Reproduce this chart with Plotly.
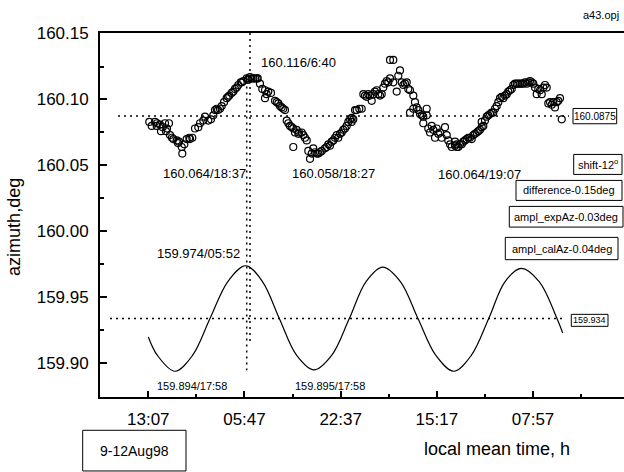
import plotly.graph_objects as go

# ---------------- data ----------------
# experimental azimuth (hours since 9 Aug 00:00, degrees)
exp_time_day1 = [13.29, 14.28, 13.71, 14.57, 15.14, 16.01, 16.70, 15.61, 15.32, 16.18,
                 16.88, 17.45, 18.04, 18.44, 18.91, 19.01, 19.36, 19.77, 20.22, 20.74,
                 21.21, 21.78, 22.08, 22.65, 22.94, 23.51, 23.98, 24.38, 24.68, 24.97,
                 25.54, 25.84, 26.24, 26.70, 27.15, 27.57, 27.85, 28.44, 28.71, 29.13,
                 29.58, 30.17, 30.74, 31.31, 31.90,
                 25.20, 26.93, 28.14, 29.35, 30.39, 20.34, 18.26, 17.22, 16.36, 14.63]
exp_az_day1 = [160.083, 160.083, 160.080, 160.080, 160.081, 160.082, 160.082, 160.079, 160.076, 160.076,
               160.073, 160.070, 160.069, 160.068, 160.064, 160.059, 160.066, 160.070, 160.071, 160.071,
               160.078, 160.079, 160.082, 160.084, 160.087, 160.084, 160.085, 160.088, 160.092, 160.093,
               160.093, 160.095, 160.098, 160.101, 160.103, 160.105, 160.106, 160.109, 160.111, 160.113,
               160.114, 160.116, 160.117, 160.116, 160.116,
               160.092, 160.102, 160.108, 160.113, 160.115, 160.070, 160.067, 160.071, 160.078, 160.082]

exp_time_day2 = [30.45, 31.04, 31.61, 32.08, 32.47, 32.87, 33.34, 33.63, 33.91, 34.38,
                 33.34, 35.07, 35.37, 35.65, 35.94, 36.23, 36.51, 36.81, 37.10, 37.38,
                 37.67, 37.97, 38.24, 38.54, 38.83, 39.11, 39.23, 39.70, 39.98, 40.27,
                 40.57, 38.24, 40.84, 41.43, 41.14, 41.71, 42.00, 42.30, 42.58, 42.87,
                 43.17, 43.74, 44.03, 44.31, 44.60, 44.90, 45.18, 45.47, 45.77, 46.04,
                 46.34, 46.63, 46.91, 47.20, 47.50, 47.78, 48.07, 48.36, 48.94]
exp_az_day2 = [160.115, 160.116, 160.116, 160.116, 160.112, 160.108, 160.107, 160.104, 160.106, 160.105,
               160.101, 160.099, 160.098, 160.097, 160.095, 160.094, 160.093, 160.092, 160.084, 160.082,
               160.080, 160.079, 160.078, 160.075, 160.077, 160.074, 160.075, 160.075, 160.073, 160.071,
               160.069, 160.064, 160.061, 160.059, 160.055, 160.063, 160.060, 160.059, 160.059, 160.060,
               160.061, 160.063, 160.064, 160.066, 160.065, 160.068, 160.069, 160.071, 160.073, 160.071,
               160.074, 160.075, 160.077, 160.078, 160.080, 160.083, 160.085, 160.086, 160.092]

exp_time_day3 = [48.36, 48.64, 49.23, 49.68, 50.10, 50.38, 50.67, 50.96, 51.24, 51.54,
                 51.83, 52.11, 52.40, 52.70, 52.97, 53.27, 53.56, 53.84, 54.13, 54.43,
                 54.71, 55.00, 55.57, 55.00, 55.57, 56.16, 56.44, 56.73, 57.03, 57.31,
                 57.60, 57.90, 58.17, 58.47, 59.04, 59.33, 59.63, 58.47, 59.04, 59.91,
                 60.20, 60.49, 60.77, 61.36, 60.77, 61.36, 61.64, 62.23, 61.93, 62.51,
                 62.80, 63.09, 63.37, 63.67, 63.96, 64.53, 64.83, 65.10, 65.40, 65.69,
                 66.27, 66.56]
exp_az_day3 = [160.083, 160.085, 160.092, 160.093, 160.093, 160.104, 160.103, 160.102, 160.104, 160.103,
               160.099, 160.104, 160.106, 160.107, 160.104, 160.103, 160.104, 160.109, 160.112, 160.114,
               160.113, 160.116, 160.113, 160.130, 160.130, 160.106, 160.118, 160.122, 160.113, 160.111,
               160.112, 160.113, 160.108, 160.107, 160.103, 160.098, 160.094, 160.090, 160.093, 160.092,
               160.089, 160.088, 160.087, 160.093, 160.082, 160.088, 160.078, 160.080, 160.075, 160.077,
               160.071, 160.078, 160.074, 160.075, 160.071, 160.079, 160.073, 160.069, 160.066, 160.064,
               160.065, 160.066]

exp_time_day4 = [66.27, 66.56, 66.84, 67.13, 67.43, 67.70, 68.00, 68.29, 68.57, 68.86,
                 69.16, 69.44, 69.73, 70.03, 70.30, 70.60, 70.89, 71.17, 70.89, 71.46,
                 71.76, 72.04, 72.33, 72.62, 72.90, 73.20, 73.49, 73.77, 74.06, 74.36,
                 74.64, 74.93, 75.22, 75.50, 75.80, 76.09, 76.37, 76.66, 76.96, 77.23,
                 77.53, 77.82, 78.10, 78.40, 78.69, 78.97, 79.26, 79.56, 79.83, 80.13,
                 80.42, 80.70, 81.00, 81.29, 81.57, 81.86, 82.16, 82.43, 82.73, 83.02,
                 83.30, 83.59, 83.89, 84.17, 84.46, 84.76]
exp_az_day4 = [160.068, 160.064, 160.064, 160.066, 160.066, 160.068, 160.069, 160.070, 160.071, 160.071,
               160.070, 160.073, 160.074, 160.075, 160.076, 160.077, 160.079, 160.080, 160.083, 160.084,
               160.087, 160.088, 160.089, 160.090, 160.090, 160.093, 160.095, 160.098, 160.101, 160.102,
               160.101, 160.103, 160.104, 160.106, 160.107, 160.108, 160.111, 160.112, 160.112, 160.112,
               160.112, 160.112, 160.112, 160.113, 160.112, 160.113, 160.114, 160.113, 160.112, 160.109,
               160.104, 160.108, 160.107, 160.104, 160.109, 160.111, 160.109, 160.097, 160.098, 160.096,
               160.098, 160.094, 160.098, 160.099, 160.101, 160.085]

# calculated azimuth
cal_time_h = [13.12, 14.70, 17.74, 20.78, 23.81, 26.90, 29.99, 32.90, 35.82, 38.83,
              41.83, 44.89, 47.95, 50.85, 53.74, 56.80, 59.85, 62.95, 66.04, 69.08,
              72.11, 74.94, 77.76, 80.85, 83.94, 84.93]
cal_az = [159.920, 159.906, 159.894, 159.906, 159.934, 159.962, 159.974, 159.962, 159.934, 159.906,
          159.895, 159.906, 159.934, 159.962, 159.973, 159.962, 159.934, 159.906, 159.894, 159.906,
          159.934, 159.962, 159.972, 159.962, 159.934, 159.923]

x_tick_vals = [13.117, 29.783, 46.450, 63.117, 79.783]
x_tick_text = ["13:07", "05:47", "22:37", "15:17", "07:57"]
x_minor_vals = [4.783, 21.450, 38.117, 54.783, 71.450, 88.117]
y_tick_vals = [159.90, 159.95, 160.00, 160.05, 160.10, 160.15]
y_minor_vals = [159.875, 159.925, 159.975, 160.025, 160.075, 160.125]

mean_exp = 160.0875
mean_cal = 159.934
peak_exp_time = 30.74
peak_cal_time = 30.17

exp_time = exp_time_day1 + exp_time_day2 + exp_time_day3 + exp_time_day4
exp_az = exp_az_day1 + exp_az_day2 + exp_az_day3 + exp_az_day4

# ---------------- figure ----------------
FONT = "Liberation Sans, Arial, sans-serif"
X0, X1 = 4.747, 95.55
Y0, Y1 = 159.8745, 160.1504
DOT = "2px,4px"

fig = go.Figure()

# reference lines
fig.add_trace(go.Scatter(x=[7.87, 86.02], y=[mean_exp, mean_exp], mode="lines",
                         line=dict(color="black", width=1.5, dash=DOT), hoverinfo="skip"))
fig.add_trace(go.Scatter(x=[6.48, 84.81], y=[mean_cal, mean_cal], mode="lines",
                         line=dict(color="black", width=1.5, dash=DOT), hoverinfo="skip"))
fig.add_trace(go.Scatter(x=[peak_exp_time, peak_exp_time], y=[Y1, 159.915], mode="lines",
                         line=dict(color="black", width=1.5, dash=DOT), hoverinfo="skip"))
fig.add_trace(go.Scatter(x=[peak_cal_time, peak_cal_time], y=[160.119, 159.8947], mode="lines",
                         line=dict(color="black", width=1.5, dash=DOT), hoverinfo="skip"))

# calculated curve
fig.add_trace(go.Scatter(x=cal_time_h, y=cal_az, mode="lines",
                         line=dict(color="black", width=1.2, shape="spline", smoothing=1.0)))
# experimental points
fig.add_trace(go.Scatter(x=exp_time, y=exp_az, mode="markers",
                         marker=dict(symbol="circle-open", size=7, color="black",
                                     line=dict(color="black", width=1.2))))

PX0, PW = 100.0, 524.0
PYB, PH = 396.7, 364.2


def pxx(x):
    return (x - PX0) / PW


def pyy(y):
    return (PYB - y) / PH


annotations = []
# data labels
for txt, x, y, size, anchor in [
    ("160.116/6:40", 32.35, 160.128, 13, "left"),
    ("160.064/18:37", 22.80, 160.044, 13, "center"),
    ("160.058/18:27", 45.26, 160.044, 13, "center"),
    ("160.064/19:07", 70.54, 160.043, 13, "center"),
    ("159.974/05:52", 21.78, 159.983, 13, "center"),
    ("159.894/17:58", 20.74, 159.883, 11, "center"),
    ("159.895/17:58", 44.66, 159.883, 11, "center"),
]:
    annotations.append(dict(x=x, y=y, xref="x", yref="y", text=txt, showarrow=False,
                            xanchor=anchor, yanchor="middle",
                            font=dict(family=FONT, size=size, color="black")))

# boxed labels (shape rectangles + text)
boxes = [
    ("160.0875", 573.0, 108.0, 616.7, 123.3, 10),
    ("159.934", 571.3, 314.0, 608.0, 326.0, 9),
    ("shift-12<sup>o</sup>", 573.7, 154.0, 622.0, 174.0, 11),
    ("difference-0.15deg", 516.0, 180.0, 622.0, 200.0, 11),
    ("ampl_expAz-0.03deg", 509.3, 206.0, 623.0, 226.7, 11),
    ("ampl_calAz-0.04deg", 505.3, 237.0, 618.0, 259.3, 11),
    ("9-12Aug98", 82.7, 430.0, 186.0, 470.7, 14),
]
shapes = []
for txt, x0, y0, x1, y1, size in boxes:
    shapes.append(dict(type="rect", xref="paper", yref="paper",
                       x0=pxx(x0), x1=pxx(x1), y0=pyy(y1), y1=pyy(y0),
                       line=dict(color="black", width=1), fillcolor="white", layer="above"))
    annotations.append(dict(x=pxx((x0 + x1) / 2), y=pyy((y0 + y1) / 2), xref="paper", yref="paper",
                            text=txt, showarrow=False, xanchor="center", yanchor="middle",
                            font=dict(family=FONT, size=size, color="black")))

# titles and file name
annotations.append(dict(x=pxx(497), y=pyy(448.3), xref="paper", yref="paper",
                        text="local mean time, h", showarrow=False, xanchor="center", yanchor="middle",
                        font=dict(family=FONT, size=18, color="black")))
annotations.append(dict(x=pxx(14), y=pyy(226.5), xref="paper", yref="paper",
                        text="azimuth,deg", showarrow=False, textangle=-90,
                        xanchor="center", yanchor="middle",
                        font=dict(family=FONT, size=18, color="black")))
annotations.append(dict(x=pxx(620.5), y=pyy(14), xref="paper", yref="paper",
                        text="a43.opj", showarrow=False, xanchor="right", yanchor="middle",
                        font=dict(family=FONT, size=11, color="black")))

fig.update_layout(
    width=624, height=472,
    margin=dict(l=100, r=0, t=32.5, b=75.3, pad=0),
    paper_bgcolor="white", plot_bgcolor="white",
    showlegend=False,
    font=dict(family=FONT, color="black"),
    annotations=annotations,
    shapes=shapes,
    xaxis=dict(range=[X0, X1], showgrid=False, zeroline=False,
               showline=True, linecolor="black", linewidth=1.8, mirror=True,
               tickmode="array", tickvals=x_tick_vals, ticktext=x_tick_text,
               ticks="inside", ticklen=6, tickwidth=1.5, tickcolor="black",
               minor=dict(tickmode="array", tickvals=x_minor_vals, ticks="inside",
                          ticklen=3, tickwidth=1.5, tickcolor="black", showgrid=False),
               tickfont=dict(family=FONT, size=17, color="black"),
               ticklabelstandoff=6),
    yaxis=dict(range=[Y0, Y1], showgrid=False, zeroline=False,
               showline=True, linecolor="black", linewidth=1.8, mirror=False,
               tickmode="array", tickvals=y_tick_vals,
               ticktext=[f"{v:.2f}" for v in y_tick_vals],
               ticks="inside", ticklen=7, tickwidth=1.5, tickcolor="black",
               minor=dict(tickmode="array", tickvals=y_minor_vals, ticks="inside",
                          ticklen=4, tickwidth=1.5, tickcolor="black", showgrid=False),
               tickfont=dict(family=FONT, size=17, color="black"),
               ticklabelstandoff=6),
)

fig.write_html("out.html", config={"displayModeBar": False},
               post_script="document.body.style.margin='0';document.body.style.overflow='hidden';")
